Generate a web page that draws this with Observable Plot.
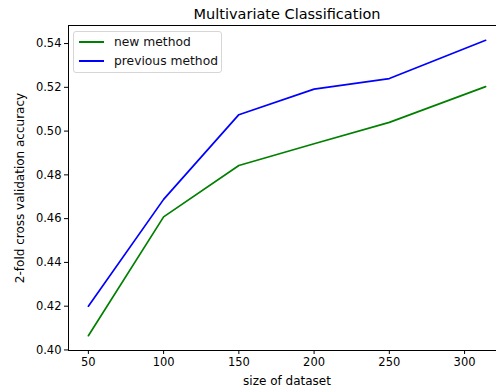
<!DOCTYPE html>
<html>
<head>
<meta charset="utf-8">
<script src="https://cdn.jsdelivr.net/npm/d3@7"></script>
<script src="https://cdn.jsdelivr.net/npm/@observablehq/plot@0.6"></script>
<style>
  html, body { margin: 0; padding: 0; background: white; }
  #wrap { position: relative; width: 496px; height: 391px; overflow: hidden; font-family: "DejaVu Sans", sans-serif; }
  #legend {
    position: absolute; left: 73px; top: 31px; width: 147px; height: 40px;
    border: 1px solid #d6d6d6; border-radius: 3px; background: rgba(255,255,255,0.8);
    font-size: 12.3px; color: #111;
  }
  .row { position: absolute; left: 5px; display: flex; align-items: center; }
  .sw { width: 25px; height: 2px; margin-right: 10px; }
</style>
</head>
<body>
<div id="wrap"></div>
<script>
const sizes = [50, 100, 150, 200, 250, 314];
const newMethod = [0.4065, 0.4608, 0.4843, 0.4942, 0.5040, 0.5203];
const previousMethod = [0.4200, 0.4688, 0.5075, 0.5192, 0.5240, 0.5415];
const seriesNames = ["new method", "previous method"];
const seriesColors = ["#008000", "#0000ff"];
const xTicks = [50, 100, 150, 200, 250, 300];
const yTicks = [0.40, 0.42, 0.44, 0.46, 0.48, 0.50, 0.52, 0.54];
const title = "Multivariate Classification";
const xLabel = "size of dataset";
const yLabel = "2-fold cross validation accuracy";

const data = [];
sizes.forEach((s, i) => {
  data.push({size: s, acc: newMethod[i], series: seriesNames[0]});
  data.push({size: s, acc: previousMethod[i], series: seriesNames[1]});
});

const xmin = d3.min(sizes), xmax = d3.max(sizes);
const allY = newMethod.concat(previousMethod);
const ymin = d3.min(allY), ymax = d3.max(allY);
const xpad = (xmax - xmin) * 0.05, ypad = (ymax - ymin) * 0.05;

const chart = Plot.plot({
  width: 496,
  height: 391,
  marginLeft: 68,
  marginRight: -9,
  marginTop: 25,
  marginBottom: 41,
  style: {fontFamily: "DejaVu Sans, sans-serif", fontSize: "11.5px", color: "#000", background: "white", overflow: "hidden"},
  x: {domain: [xmin - xpad, xmax + xpad], ticks: xTicks},
  y: {domain: [ymin - ypad, ymax + ypad], ticks: yTicks},
  color: {domain: seriesNames, range: seriesColors},
  marks: [
    Plot.line(data, {x: "size", y: "acc", z: "series", stroke: "series", strokeWidth: 1.7}),
    Plot.frame({stroke: "#000", strokeWidth: 1}),
    Plot.axisX({ticks: xTicks, tickSize: 4, tickPadding: 3, label: null, fontSize: 11.5, stroke: "#000"}),
    Plot.axisY({ticks: yTicks, tickSize: 4, tickPadding: 3, label: null, tickFormat: d => d.toFixed(2), fontSize: 11.5, stroke: "#000"}),
    Plot.text([xLabel], {text: d => d, frameAnchor: "bottom", textAnchor: "middle", lineAnchor: "middle", dy: 31, fontSize: 12, fill: "#000"}),
    Plot.text([yLabel], {text: d => d, frameAnchor: "left", textAnchor: "middle", lineAnchor: "middle", dx: -48, rotate: -90, fontSize: 12, fill: "#000"}),
    Plot.text([title], {text: d => d, frameAnchor: "top", textAnchor: "middle", lineAnchor: "middle", dy: -11, fontSize: 14.5, fill: "#000"})
  ]
});

const wrap = document.getElementById("wrap");
wrap.appendChild(chart);

const legend = document.createElement("div");
legend.id = "legend";
seriesNames.forEach((name, i) => {
  const row = document.createElement("div");
  row.className = "row";
  row.style.top = (3 + i * 19) + "px";
  const sw = document.createElement("span");
  sw.className = "sw";
  sw.style.background = seriesColors[i];
  const label = document.createElement("span");
  label.textContent = name;
  row.appendChild(sw);
  row.appendChild(label);
  legend.appendChild(row);
});
wrap.appendChild(legend);
</script>
</body>
</html>
